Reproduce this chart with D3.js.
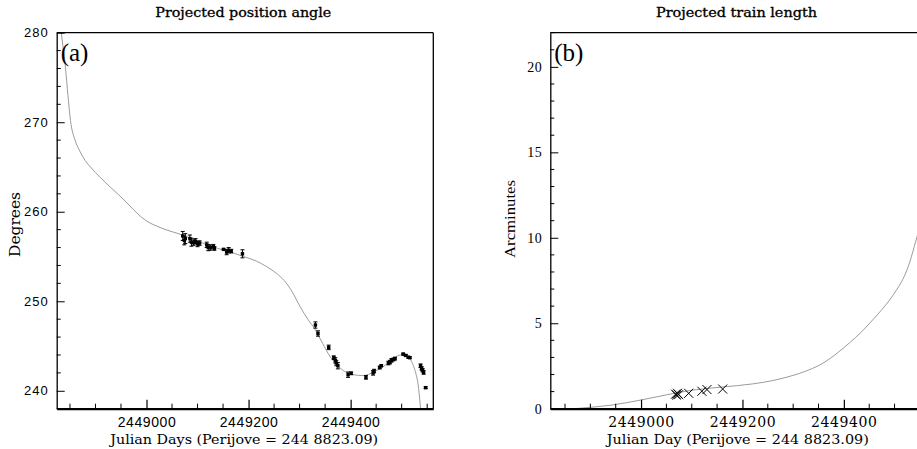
<!DOCTYPE html>
<html>
<head>
<meta charset="utf-8">
<script src="https://cdn.jsdelivr.net/npm/d3@7/dist/d3.min.js"></script>
<style>
body { margin: 0; background: #fff; }
svg { display: block; }
</style>
</head>
<body>
<div id="content"></div>
<script>
// panel (a): model curve of projected position angle
var modelA_jd  = [2448833, 2448836, 2448841, 2448846, 2448851, 2448860, 2448870, 2448880, 2448890, 2448910,
                  2448930, 2448960, 2448975, 2448990, 2449005, 2449020, 2449040, 2449060, 2449080, 2449110,
                  2449140, 2449170, 2449190, 2449215, 2449236, 2449255, 2449270, 2449285, 2449301, 2449316,
                  2449331, 2449345, 2449360, 2449375, 2449390, 2449405, 2449425, 2449445, 2449464, 2449480,
                  2449497, 2449508, 2449516, 2449523, 2449528, 2449532, 2449535, 2449537];
var modelA_deg = [280.0, 278.6, 276.2, 273.0, 270.2, 268.0, 266.7, 265.7, 265.0, 263.8,
                  262.7, 261.1, 260.2, 259.4, 258.8, 258.4, 257.95, 257.6, 257.2, 256.5,
                  255.9, 255.4, 255.0, 254.5, 253.85, 253.1, 252.3, 251.1, 249.4, 248.0,
                  246.8, 245.3, 243.8, 242.8, 242.1, 241.8, 241.7, 242.1, 242.7, 243.4,
                  244.0, 244.0, 243.6, 242.8, 241.9, 240.8, 239.3, 238.0];

// panel (a): measured position angles with error bars
var obsA_jd  = [2449071, 2449074, 2449076, 2449085, 2449088, 2449092, 2449096, 2449100, 2449104, 2449118,
                2449121, 2449125, 2449131, 2449133, 2449151, 2449157, 2449161, 2449166, 2449188,
                2449331, 2449336, 2449357, 2449367, 2449370, 2449372, 2449375, 2449395, 2449401, 2449430,
                2449444, 2449446, 2449457, 2449460, 2449474, 2449477, 2449480, 2449484, 2449487, 2449503,
                2449508, 2449513, 2449516, 2449537, 2449539, 2449541, 2449543, 2449547];
var obsA_deg = [257.3, 256.8, 257.0, 257.0, 256.6, 256.55, 256.7, 256.4, 256.5, 256.3,
                256.0, 256.0, 256.1, 255.9, 255.8, 255.5, 255.7, 255.6, 255.3,
                247.35, 246.4, 244.85, 243.7, 243.4, 243.1, 242.8, 241.8, 241.95, 241.5,
                242.0, 242.2, 242.6, 242.8, 243.1, 243.2, 243.4, 243.5, 243.6, 244.1,
                243.95, 243.75, 243.7, 242.8, 242.5, 242.3, 242.05, 240.35];
var obsA_err = [0.5, 0.5, 0.55, 0.4, 0.45, 0.3, 0.3, 0.3, 0.25, 0.3,
                0.35, 0.3, 0.25, 0.2, 0.05, 0.3, 0.3, 0.2, 0.45,
                0.35, 0.3, 0.25, 0.2, 0.3, 0.3, 0.35, 0.3, 0.15, 0.2,
                0.25, 0.2, 0.15, 0.1, 0.2, 0.2, 0.2, 0.15, 0.15, 0.1,
                0.1, 0.1, 0.1, 0.2, 0.2, 0.2, 0.2, 0.1];

// panel (b): model curve of projected train length (arcmin)
var modelB_jd  = [2448868, 2448900, 2448944, 2449000, 2449062, 2449100, 2449161, 2449220, 2449260, 2449300,
                  2449325, 2449350, 2449371, 2449390, 2449411, 2449435, 2449457, 2449475, 2449490, 2449505,
                  2449516, 2449528, 2449539, 2449550, 2449560];
var modelB_len = [0.0, 0.08, 0.22, 0.51, 0.88, 1.08, 1.27, 1.45, 1.65, 1.95,
                  2.2, 2.52, 2.9, 3.33, 3.85, 4.5, 5.2, 5.8, 6.35, 7.0,
                  7.55, 8.4, 9.5, 10.7, 11.9];

// panel (b): measured train lengths
var obsB_jd  = [2449068, 2449070, 2449072, 2449074, 2449094, 2449120, 2449130, 2449161];
var obsB_len = [0.85, 0.8, 0.9, 0.82, 0.9, 1.02, 1.12, 1.15];

var xTickValues = [2449000, 2449200, 2449400];
var xTickLabels = ['2449000', '2449200', '2449400'];
var yTicksA = [240, 250, 260, 270, 280];
var yTicksB = [0, 5, 10, 15, 20];

var W = 917, H = 449;
var svg = d3.select('#content').append('svg').attr('width', W).attr('height', H);
svg.append('rect').attr('width', W).attr('height', H).attr('fill', '#fff');

var plotTop = 32.7, plotBottom = 408.7;

function minorTicks(domain, step, majors)
{
	var start = Math.ceil(domain[0] / step) * step;
	return d3.range(start, domain[1] + 0.001, step).filter(v => majors.indexOf(v) == -1);
}

function drawPanel(p)
{
	var x = d3.scaleLinear().domain(p.xDomain).range([p.left, p.right]);
	var y = d3.scaleLinear().domain(p.yDomain).range([plotBottom, plotTop]);
	var g = svg.append('g');

	var clipId = 'clip-' + p.id;
	svg.append('clipPath').attr('id', clipId).append('rect')
		.attr('x', p.left).attr('y', plotTop).attr('width', p.right - p.left).attr('height', plotBottom - plotTop);

	// model curve
	var pts = p.modelX.map((v, i) => [v, p.modelY[i]]);
	g.append('path').datum(pts)
		.attr('clip-path', 'url(#' + clipId + ')')
		.attr('fill', 'none').attr('stroke', '#909090').attr('stroke-width', 0.9)
		.attr('d', d3.line().x(d => x(d[0])).y(d => y(d[1])).curve(d3.curveMonotoneX));

	// frame
	g.append('line').attr('x1', p.left).attr('x2', p.right).attr('y1', plotTop).attr('y2', plotTop)
		.attr('stroke', '#000').attr('stroke-width', 1.3);
	if (p.rightBorder)
	{
		g.append('line').attr('x1', p.right).attr('x2', p.right).attr('y1', plotTop).attr('y2', plotBottom)
			.attr('stroke', '#000').attr('stroke-width', 1.3);
	}

	// y axis
	var ya = g.append('g').attr('transform', 'translate(' + p.left + ',0)')
		.call(d3.axisLeft(y).tickValues(p.yTicks).tickSize(-8).tickPadding(8).tickSizeOuter(0));
	ya.select('.domain').attr('stroke', '#000').attr('stroke-width', 1.3);
	ya.selectAll('.tick line').attr('stroke', '#000').attr('stroke-width', 1);
	ya.selectAll('.tick text').attr('font-family', p.yFont).attr('font-size', p.yFontSize)
		.attr('letter-spacing', p.yLetter).attr('fill', '#000');
	g.append('g').attr('transform', 'translate(' + p.left + ',0)')
		.selectAll('line').data(minorTicks(p.yDomain, p.yMinor, p.yTicks)).enter().append('line')
		.attr('x1', 0).attr('x2', 4).attr('y1', d => y(d)).attr('y2', d => y(d))
		.attr('stroke', '#000').attr('stroke-width', 1);

	// x axis
	var xa = g.append('g').attr('transform', 'translate(0,' + plotBottom + ')')
		.call(d3.axisBottom(x).tickValues(xTickValues).tickFormat((d, i) => xTickLabels[i])
			.tickSize(-9).tickPadding(8).tickSizeOuter(0));
	xa.select('.domain').attr('stroke', '#000').attr('stroke-width', 2.2);
	xa.selectAll('.tick line').attr('stroke', '#000').attr('stroke-width', 1.2);
	xa.selectAll('.tick text').attr('font-family', p.xFont).attr('font-size', 14)
		.attr('letter-spacing', 0.6).attr('fill', '#000');
	g.append('g').attr('transform', 'translate(0,' + plotBottom + ')')
		.selectAll('line').data(minorTicks(p.xDomain, 50, xTickValues)).enter().append('line')
		.attr('x1', d => x(d)).attr('x2', d => x(d)).attr('y1', 0).attr('y2', -5)
		.attr('stroke', '#000').attr('stroke-width', 1);

	// texts
	g.append('text').attr('x', p.titleX).attr('y', 16.5).attr('text-anchor', 'middle')
		.attr('font-family', 'DejaVu Serif').attr('font-size', 12.5)
		.attr('stroke', '#000').attr('stroke-width', 0.3)
		.attr('textLength', p.titleLen).attr('lengthAdjust', 'spacingAndGlyphs').text(p.title);
	g.append('text').attr('x', p.xLabelX).attr('y', 443.5).attr('text-anchor', 'middle')
		.attr('font-family', 'DejaVu Serif').attr('font-size', 13.5)
		.attr('textLength', p.xLabelLen).attr('lengthAdjust', 'spacingAndGlyphs').text(p.xLabel);
	g.append('text').attr('transform', 'translate(' + p.yLabelX + ',' + p.yLabelY + ') rotate(-90)')
		.attr('text-anchor', 'middle').attr('font-family', p.yLabelFont).attr('font-size', 14)
		.attr('textLength', p.yLabelLen).attr('lengthAdjust', 'spacingAndGlyphs').text(p.yLabel);
	g.append('text').attr('x', p.left + 4).attr('y', 61)
		.attr('font-family', 'Liberation Serif').attr('font-size', 25).text(p.tag);

	return { g: g, x: x, y: y };
}

// ---- panel (a)
var a = drawPanel({
	id: 'a', left: 56.7, right: 433.3, rightBorder: true,
	xDomain: [2448824, 2449562], yDomain: [238, 280], yTicks: yTicksA, yMinor: 2,
	modelX: modelA_jd, modelY: modelA_deg,
	yFont: 'Liberation Sans', yFontSize: 13, yLetter: 1, xFont: 'Liberation Sans',
	title: 'Projected position angle', titleX: 243.3, titleLen: 176,
	xLabel: 'Julian Days (Perijove = 244 8823.09)', xLabelX: 244.2, xLabelLen: 268,
	yLabel: 'Degrees', yLabelX: 19.5, yLabelY: 224.5, yLabelLen: 65, yLabelFont: 'DejaVu Serif',
	tag: '(a)'
});

var obsA = obsA_jd.map((v, i) => ({ jd: v, deg: obsA_deg[i], err: obsA_err[i] }));
var bars = a.g.append('g').selectAll('g').data(obsA).enter().append('g');
bars.append('line')
	.attr('x1', d => a.x(d.jd)).attr('x2', d => a.x(d.jd))
	.attr('y1', d => a.y(d.deg + d.err)).attr('y2', d => a.y(d.deg - d.err))
	.attr('stroke', '#000').attr('stroke-width', 1);
bars.append('line')
	.attr('x1', d => a.x(d.jd) - 2).attr('x2', d => a.x(d.jd) + 2)
	.attr('y1', d => a.y(d.deg + d.err)).attr('y2', d => a.y(d.deg + d.err))
	.attr('stroke', '#000').attr('stroke-width', 1);
bars.append('line')
	.attr('x1', d => a.x(d.jd) - 2).attr('x2', d => a.x(d.jd) + 2)
	.attr('y1', d => a.y(d.deg - d.err)).attr('y2', d => a.y(d.deg - d.err))
	.attr('stroke', '#000').attr('stroke-width', 1);
bars.append('rect')
	.attr('x', d => a.x(d.jd) - 1.7).attr('y', d => a.y(d.deg) - 1.7)
	.attr('width', 3.4).attr('height', 3.4).attr('fill', '#000');

// ---- panel (b)
var b = drawPanel({
	id: 'b', left: 550.3, right: 926.5, rightBorder: false,
	xDomain: [2448821, 2449563], yDomain: [0, 22], yTicks: yTicksB, yMinor: 1,
	modelX: modelB_jd, modelY: modelB_len,
	yFont: 'Liberation Serif', yFontSize: 14, yLetter: 0.5, xFont: 'DejaVu Serif',
	title: 'Projected train length', titleX: 736.5, titleLen: 161,
	xLabel: 'Julian Day (Perijove = 244 8823.09)', xLabelX: 737.8, xLabelLen: 262,
	yLabel: 'Arcminutes', yLabelX: 515, yLabelY: 219, yLabelLen: 78, yLabelFont: 'Liberation Serif',
	tag: '(b)'
});

var obsB = obsB_jd.map((v, i) => ({ jd: v, len: obsB_len[i] }));
var cross = d3.symbol().type(d3.symbolX).size(55);
b.g.append('g').selectAll('path').data(obsB).enter().append('path')
	.attr('d', cross)
	.attr('transform', d => 'translate(' + b.x(d.jd) + ',' + b.y(d.len) + ')')
	.attr('fill', 'none').attr('stroke', '#000').attr('stroke-width', 1);
</script>
</body>
</html>
